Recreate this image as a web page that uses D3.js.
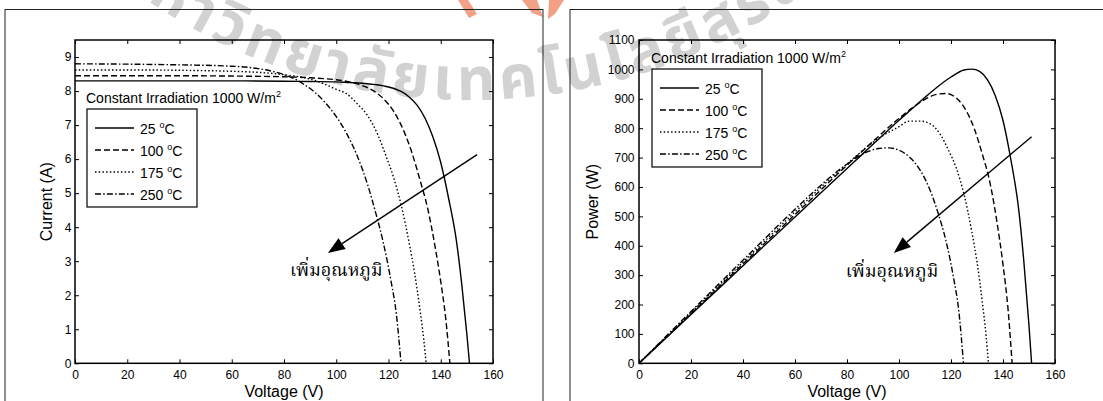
<!DOCTYPE html>
<html>
<head>
<meta charset="utf-8">
<script src="https://cdn.jsdelivr.net/npm/d3@7"></script>
<style>
body { margin: 0; background: #fff; }
svg { display: block; font-family: "Liberation Sans", Arial, sans-serif; }
</style>
</head>
<body>
<div id="chart"></div>
<script>
var WIDTH = 1103;
var HEIGHT = 401;

// temperatures in the legend
var temps = ["25", "100", "175", "250"];

// voltage samples (V), current (A) and power (W)
var volt25 = [0, 20, 40, 60, 80, 90, 100, 105, 110, 115, 120, 125, 128, 131, 134, 137, 140, 143, 146, 148, 150, 151];
var amp25 = [8.30, 8.30, 8.30, 8.30, 8.29, 8.28, 8.27, 8.25, 8.23, 8.19, 8.12, 7.98, 7.82, 7.58, 7.20, 6.65, 5.90, 4.85, 3.60, 2.35, 0.85, 0];
var watt25 = [0, 166, 332, 498, 663, 745, 827, 866, 905, 942, 974, 998, 1001, 993, 965, 911, 826, 694, 526, 348, 128, 0];

var volt100 = [0, 20, 40, 60, 80, 90, 100, 105, 110, 114, 118, 122, 126, 129, 132, 135, 138, 140, 142, 143.5];
var amp100 = [8.45, 8.45, 8.45, 8.44, 8.42, 8.39, 8.33, 8.27, 8.16, 8.02, 7.78, 7.40, 6.80, 6.18, 5.40, 4.55, 3.35, 2.40, 1.25, 0];
var watt100 = [0, 169, 338, 506, 674, 755, 833, 868, 898, 914, 918, 903, 857, 797, 713, 614, 462, 336, 178, 0];

var volt175 = [0, 20, 40, 60, 70, 80, 90, 95, 100, 104, 108, 112, 116, 119, 122, 125, 128, 130, 132, 133.5, 134.4];
var amp175 = [8.62, 8.62, 8.61, 8.58, 8.55, 8.48, 8.35, 8.22, 8.05, 7.92, 7.63, 7.28, 6.70, 6.10, 5.45, 4.60, 3.50, 2.65, 1.60, 0.70, 0];
var watt175 = [0, 172, 344, 515, 599, 678, 752, 781, 805, 824, 824, 815, 777, 726, 665, 575, 448, 345, 211, 93, 0];

var volt250 = [0, 20, 40, 60, 70, 75, 80, 85, 88, 92, 96, 100, 104, 108, 112, 115, 118, 121, 123, 124.8];
var amp250 = [8.80, 8.79, 8.77, 8.73, 8.66, 8.59, 8.48, 8.32, 8.18, 7.95, 7.64, 7.25, 6.75, 6.10, 5.25, 4.45, 3.55, 2.40, 1.45, 0];
var watt250 = [0, 176, 351, 524, 606, 644, 678, 707, 720, 731, 733, 725, 702, 659, 588, 512, 419, 290, 178, 0];

var voltTicks = [0, 20, 40, 60, 80, 100, 120, 140, 160];
var currentTicks = [0, 1, 2, 3, 4, 5, 6, 7, 8, 9];
var powerTicks = [0, 100, 200, 300, 400, 500, 600, 700, 800, 900, 1000, 1100];

var caption = "Constant Irradiation 1000 W/m";
var arrowNote = "เพิ่มอุณหภูมิ";
var watermark = "มหาวิทยาลัยเทคโนโลยีสุรนารี";

var DASHES = [null, "6,3", "1.5,2.2", "6,2.2,1.5,2.2"];

var svg = d3.select("#chart").append("svg")
	.attr("width", WIDTH)
	.attr("height", HEIGHT);

var panels = [
	{
		frame: { x: 5, y: 9.5, w: 538 },
		plot: { left: 75, right: 493, top: 40, bottom: 363.3 },
		yMax: 9.5, yTicks: currentTicks, yTitle: "Current (A)", yTitleX: 52, yPad: 3.5,
		volts: [volt25, volt100, volt175, volt250],
		values: [amp25, amp100, amp175, amp250],
		legend: { x: 87, y: 109 },
		arrow: [[153.9, 6.13], [96.8, 3.24]],
		note: [100, 2.75]
	},
	{
		frame: { x: 570, y: 9.5, w: 600 },
		plot: { left: 639, right: 1055, top: 40, bottom: 363.3 },
		yMax: 1100, yTicks: powerTicks, yTitle: "Power (W)", yTitleX: 598, yPad: 4.5,
		volts: [volt25, volt100, volt175, volt250],
		values: [watt25, watt100, watt175, watt250],
		legend: { x: 652, y: 69 },
		arrow: [[151, 771], [98, 375]],
		note: [97.3, 313]
	}
];

drawWatermark();
panels.forEach(drawPanel);

function drawWatermark() {
	// faint seal text and logo pieces behind the charts
	var cx = 470, cy = -472, r = 572;
	var a0 = 150 * Math.PI / 180, a1 = 30 * Math.PI / 180;
	var p0 = [cx + r * Math.cos(a0), cy + r * Math.sin(a0)];
	var p1 = [cx + r * Math.cos(a1), cy + r * Math.sin(a1)];
	svg.append("defs").append("path")
		.attr("id", "seal-arc")
		.attr("d", `M${p0[0]},${p0[1]} A${r},${r} 0 0 0 ${p1[0]},${p1[1]}`);

	svg.append("text")
		.attr("fill", "#d2d2d2")
		.style("font-family", "'Noto Sans Thai', Loma, Garuda, 'Tlwg Typo', 'Noto Sans', sans-serif")
		.style("font-weight", "bold")
		.style("font-size", "60px")
		.style("letter-spacing", "4.5px")
		.append("textPath")
		.attr("href", "#seal-arc")
		.attr("startOffset", 212)
		.text(watermark);

	var logo = [
		[[458, 0], [468, 0], [477, 14], [469, 18]],
		[[522, 0], [537, 0], [543, 17], [532, 13]],
		[[549, 0], [564, 0], [555, 14], [548, 19]]
	];
	svg.selectAll(".logo")
		.data(logo)
		.join("polygon")
		.attr("class", "logo")
		.attr("points", function (d) { return d.map(function (q) { return q.join(","); }).join(" "); })
		.attr("fill", "#f2a086");
}

function drawPanel(p) {
	var g = svg.append("g");

	g.append("rect")
		.attr("x", p.frame.x).attr("y", p.frame.y)
		.attr("width", p.frame.w).attr("height", 500)
		.attr("fill", "none")
		.attr("stroke", "#222")
		.attr("stroke-width", 1);

	var x = d3.scaleLinear().domain([0, 160]).range([p.plot.left, p.plot.right]);
	var y = d3.scaleLinear().domain([0, p.yMax]).range([p.plot.bottom, p.plot.top]);

	// axes, MATLAB style ticks pointing inward
	var bottom = g.append("g")
		.attr("transform", `translate(0,${p.plot.bottom})`)
		.call(d3.axisBottom(x).tickValues(voltTicks).tickSizeInner(-4).tickSizeOuter(0).tickPadding(7));
	var left = g.append("g")
		.attr("transform", `translate(${p.plot.left},0)`)
		.call(d3.axisLeft(y).tickValues(p.yTicks).tickFormat(d3.format("d"))
			.tickSizeInner(-4).tickSizeOuter(0).tickPadding(p.yPad));
	var top = g.append("g")
		.attr("transform", `translate(0,${p.plot.top})`)
		.call(d3.axisTop(x).tickValues(voltTicks).tickSizeInner(-4).tickSizeOuter(0).tickFormat(""));
	var right = g.append("g")
		.attr("transform", `translate(${p.plot.right},0)`)
		.call(d3.axisRight(y).tickValues(p.yTicks).tickSizeInner(-4).tickSizeOuter(0).tickFormat(""));

	[bottom, left, top, right].forEach(function (a) {
		a.select(".domain").remove();
		a.selectAll("line").attr("stroke", "#000");
		a.selectAll("text")
			.attr("fill", "#000")
			.style("font-family", "'Liberation Sans', Arial, sans-serif")
			.style("font-size", "12px");
	});

	g.append("rect")
		.attr("x", p.plot.left).attr("y", p.plot.top)
		.attr("width", p.plot.right - p.plot.left)
		.attr("height", p.plot.bottom - p.plot.top)
		.attr("fill", "none")
		.attr("stroke", "#000")
		.attr("stroke-width", 1.5);

	// titles
	g.append("text")
		.attr("x", (p.plot.left + p.plot.right) / 2)
		.attr("y", 397)
		.attr("text-anchor", "middle")
		.style("font-size", "16px")
		.text("Voltage (V)");

	g.append("text")
		.attr("transform", `translate(${p.yTitleX},${(p.plot.top + p.plot.bottom) / 2}) rotate(-90)`)
		.attr("text-anchor", "middle")
		.style("font-size", "16px")
		.text(p.yTitle);

	// curves
	var line = d3.line()
		.x(function (d) { return x(d[0]); })
		.y(function (d) { return y(d[1]); })
		.curve(d3.curveMonotoneX);

	p.values.forEach(function (vals, i) {
		var pts = p.volts[i].map(function (v, k) { return [v, vals[k]]; });
		g.append("path")
			.datum(pts)
			.attr("d", line)
			.attr("fill", "none")
			.attr("stroke", "#000")
			.attr("stroke-width", 1.4)
			.attr("stroke-dasharray", DASHES[i]);
	});

	// caption and legend
	var lx = p.legend.x, ly = p.legend.y;
	var cap = g.append("text")
		.attr("x", lx - 1)
		.attr("y", ly - 6)
		.style("font-size", "14px")
		.text(caption);
	cap.append("tspan").attr("dy", -6).style("font-size", "9px").text("2");

	g.append("rect")
		.attr("x", lx).attr("y", ly)
		.attr("width", 110).attr("height", 98)
		.attr("fill", "none")
		.attr("stroke", "#000")
		.attr("stroke-width", 1.2);

	temps.forEach(function (t, i) {
		var ry = ly + 19 + i * 22;
		g.append("line")
			.attr("x1", lx + 8).attr("x2", lx + 47)
			.attr("y1", ry).attr("y2", ry)
			.attr("stroke", "#000")
			.attr("stroke-width", 1.4)
			.attr("stroke-dasharray", DASHES[i]);
		var label = g.append("text")
			.attr("x", lx + 53)
			.attr("y", ry + 6)
			.style("font-size", "14px")
			.text(t + " ");
		label.append("tspan").attr("dy", -6).style("font-size", "9px").text("o");
		label.append("tspan").attr("dy", 6).text("C");
	});

	// arrow showing rising temperature
	var a = [x(p.arrow[0][0]), y(p.arrow[0][1])];
	var b = [x(p.arrow[1][0]), y(p.arrow[1][1])];
	var ang = Math.atan2(b[1] - a[1], b[0] - a[0]);
	var headLen = 17, headHalf = 6.5;
	var base = [b[0] - headLen * Math.cos(ang), b[1] - headLen * Math.sin(ang)];
	g.append("line")
		.attr("x1", a[0]).attr("y1", a[1])
		.attr("x2", base[0]).attr("y2", base[1])
		.attr("stroke", "#000")
		.attr("stroke-width", 1.4);
	g.append("polygon")
		.attr("points", [
			b,
			[base[0] + headHalf * Math.sin(ang), base[1] - headHalf * Math.cos(ang)],
			[base[0] - headHalf * Math.sin(ang), base[1] + headHalf * Math.cos(ang)]
		].map(function (q) { return q.join(","); }).join(" "))
		.attr("fill", "#000");

	g.append("text")
		.attr("x", x(p.note[0]))
		.attr("y", y(p.note[1]) + 6)
		.attr("text-anchor", "middle")
		.style("font-family", "'Noto Serif Thai', Norasi, Kinnari, 'Noto Sans Thai', Loma, serif")
		.style("font-size", "18px")
		.text(arrowNote);
}
</script>
</body>
</html>
